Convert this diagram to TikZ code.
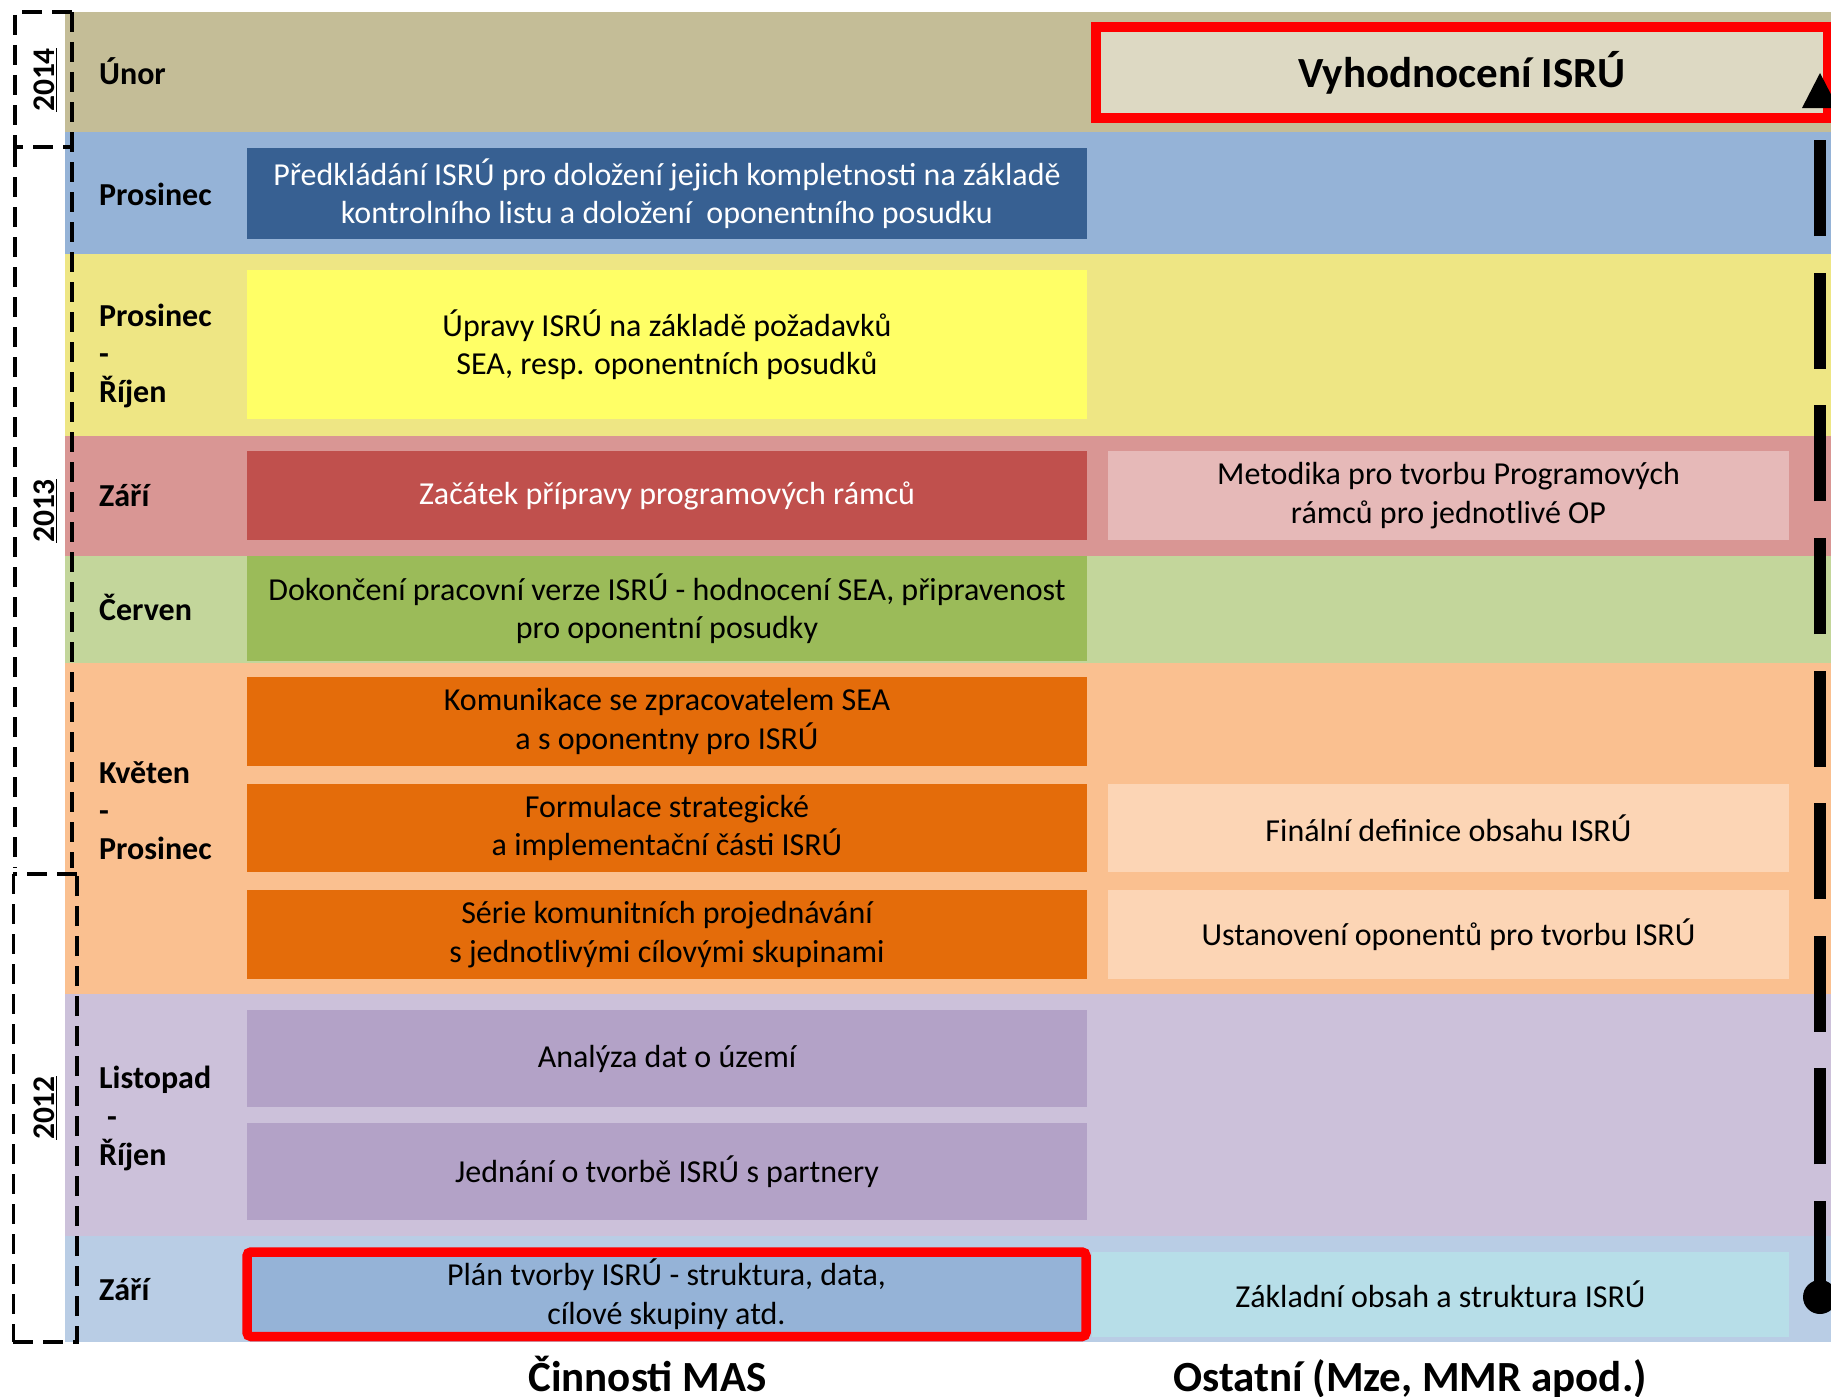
\documentclass[tikz,border=0pt]{standalone}
\usepackage{fontspec}
\setmainfont{Carlito}
\usetikzlibrary{arrows.meta}
\definecolor{bUnor}{HTML}{C4BD97}
\definecolor{bPros}{HTML}{95B3D7}
\definecolor{bYel}{HTML}{EEE684}
\definecolor{bZari}{HTML}{D99694}
\definecolor{bCerv}{HTML}{C3D69B}
\definecolor{bKvet}{HTML}{FAC090}
\definecolor{bList}{HTML}{CCC1DA}
\definecolor{bZari2}{HTML}{B9CDE5}
\definecolor{cDarkBlue}{HTML}{376092}
\definecolor{cYellow}{HTML}{FFFF66}
\definecolor{cRed}{HTML}{C0504D}
\definecolor{cGreen}{HTML}{9BBB59}
\definecolor{cOrange}{HTML}{E46C0A}
\definecolor{cPurple}{HTML}{B3A2C7}
\definecolor{cBlue}{HTML}{95B3D7}
\definecolor{cPink}{HTML}{E6B9B8}
\definecolor{cPeach}{HTML}{FCD5B5}
\definecolor{cCyan}{HTML}{B7DEE8}
\definecolor{cTan}{HTML}{DDD9C3}
\definecolor{cBorder}{HTML}{FF0000}
\begin{document}
\begin{tikzpicture}[x=1pt,y=-1pt,
  box/.style={inner sep=0pt, align=center, text=black,
    font=\fontsize{32}{38.5}\selectfont},
  lbox/.style={box, minimum width=840pt},
  rbox/.style={box, minimum width=681pt},
  month/.style={anchor=west, inner sep=0pt, align=left,
    font=\fontsize{32}{38.3}\selectfont\bfseries},
  yr/.style={rotate=90, inner sep=0pt, font=\fontsize{31.5}{36}\selectfont\bfseries},
  yb/.style={draw=black, line width=4pt, dash pattern=on 20pt off 10pt},
  title/.style={anchor=base, inner sep=0pt, font=\fontsize{43}{50}\selectfont\bfseries}
]
\useasboundingbox (0,0) rectangle (1831,1397);
\fill[white] (0,0) rectangle (1831,1397);
% bands
\fill[bUnor]  (65,12)   rectangle (1831,132);
\fill[bPros]  (65,132)  rectangle (1831,254);
\fill[bYel]   (65,254)  rectangle (1831,436);
\fill[bZari]  (65,436)  rectangle (1831,556);
\fill[bCerv]  (65,556)  rectangle (1831,663);
\fill[bKvet]  (65,663)  rectangle (1831,994);
\fill[bList]  (65,994)  rectangle (1831,1236);
\fill[bZari2] (65,1236) rectangle (1831,1342);

% month labels
\node[month] (m1) at (99,71) {Únor};
\node[month] (m2) at (99,194) {Prosinec};
\node[month] (m3) at (99,356) {Prosinec\\-\\Říjen};
\node[month] (m4) at (99,496) {Září};
\node[month] (m5) at (99,607.5) {Červen};
\node[month] (m6) at (99,810.5) {Květen\\-\\Prosinec};
\node[month] (m7) at (99,1118.5) {Listopad\\\hspace{8pt}-\\Říjen};
\node[month] (m8) at (99,1290) {Září};

% left boxes
\node[lbox, fill=cDarkBlue, text=white, minimum height=91pt] (b1) at (667,193.5)
  {Předkládání ISRÚ pro doložení jejich kompletnosti na základě\\kontrolního listu a doložení~ oponentního posudku};
\node[lbox, fill=cYellow, minimum height=149pt] (b2) at (667,344.5)
  {Úpravy ISRÚ na základě požadavků\\SEA, resp. oponentních posudků};
\node[lbox, fill=cRed, text=white, minimum height=89pt] (b3) at (667,495.5)
  {Začátek přípravy programových rámců};
\node[lbox, fill=cGreen, minimum height=105pt] (b4) at (667,608.5)
  {Dokončení pracovní verze ISRÚ - hodnocení SEA, připravenost\\pro oponentní posudky};
\node[lbox, fill=cOrange, minimum height=89pt] (b5) at (667,721.5)
  {Komunikace se zpracovatelem SEA\\a s oponentny pro ISRÚ};
\node[lbox, fill=cOrange, minimum height=88pt] (b6) at (667,828)
  {Formulace strategické\\a implementační části ISRÚ};
\node[lbox, fill=cOrange, minimum height=89pt] (b7) at (667,934.5)
  {Série komunitních projednávání\\s jednotlivými cílovými skupinami};
\node[lbox, fill=cPurple, minimum height=97pt] (b8) at (667,1058.5)
  {Analýza dat o území};
\node[lbox, fill=cPurple, minimum height=97pt] (b9) at (667,1171.5)
  {Jednání o tvorbě ISRÚ s partnery};
\node[lbox, fill=cBlue, draw=cBorder, line width=9.5pt, rounded corners=4pt,
  minimum width=839pt, minimum height=84.5pt] (b10) at (666.5,1294.25)
  {Plán tvorby ISRÚ - struktura, data,\\cílové skupiny atd.};

% right boxes
\node[rbox, fill=cPink, minimum height=89pt] (r1) at (1448.5,495.5)
  {Metodika pro tvorbu Programových\\rámců pro jednotlivé OP};
\node[rbox, fill=cPeach, minimum height=88pt] (r2) at (1448.5,828)
  {Finální definice obsahu ISRÚ};
\node[rbox, fill=cPeach, minimum height=89pt] (r3) at (1448.5,934.5)
  {Ustanovení oponentů pro tvorbu ISRÚ};
\node[box, fill=cCyan, minimum width=697pt, minimum height=85pt] (r4) at (1440.5,1294.5)
  {Základní obsah a struktura ISRÚ};

% evaluation box
\node[box, fill=cTan, draw=cBorder, line width=10.5pt, minimum width=732pt, minimum height=91pt,
  font=\fontsize{43}{50}\selectfont\bfseries] (ev) at (1462,72.5) {Vyhodnocení ISRÚ};

% timeline arrow
\coordinate (tstart) at (1820,1297);
\coordinate (tend) at (1820,73);
\draw[line width=12pt, dash pattern=on 96pt off 36.6pt,
  -{Triangle[length=35pt,width=36pt,line width=0pt]}] (tstart) -- (tend);
\fill (tstart) circle (17pt);

% year brackets
\draw[yb] (72,12) -- (15,12) -- (15,147) -- (72,147);
\draw[yb] (72,12) -- (72,868);
\draw[yb] (15,147) -- (15,868);
\draw[yb] (77,874) -- (13,874);
\draw[yb, line width=3pt] (13,874) -- (13,1342);
\draw[yb] (13,1342) -- (77,1342) -- (77,874);
\node[yr] (y14) at (45,80) {\underline{2014}};
\node[yr] (y13) at (45,511) {\underline{2013}};
\node[yr] (y12) at (45,1108) {\underline{2012}};

% column titles
\node[title] (t1) at (647.5,1391) {Činnosti MAS};
\node[title] (t2) at (1410,1391) {Ostatní (Mze, MMR apod.)};
\end{tikzpicture}
\end{document}
